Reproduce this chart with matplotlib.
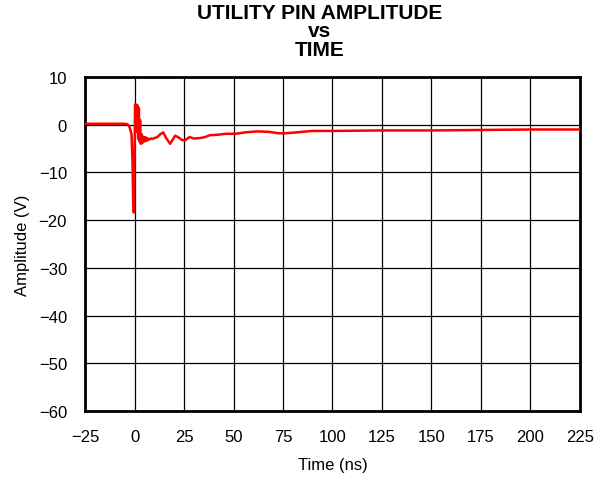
import matplotlib
matplotlib.use("Agg")
import matplotlib.pyplot as plt

plt.rcParams['font.family'] = ['Liberation Sans', 'DejaVu Sans']

# waveform
time_ns = [-25, -15, -5, -3.5, -2.5, -1.5, -1.0, -0.6, -0.3, 0.0, 0.3, 0.7, 1.0, 1.3,
           1.6, 1.9, 2.2, 2.5, 2.8, 3.2, 3.6, 4.0, 4.5, 5.0, 5.5, 6.0, 6.5, 7.0, 8.0,
           9.0, 10, 11.5, 13, 14.5, 16, 18, 19.5, 20.5, 22, 24, 25.5, 27, 28, 30, 33,
           35.5, 38, 42, 46, 51, 56, 62, 68, 73, 76, 82, 90, 100, 125, 150, 175, 200, 225]
amp_v = [0.2, 0.2, 0.2, 0.1, -0.5, -2.0, -8, -18.2, -18.4, -8, 4.3, 0.5, 4.2, -1.5,
         4.0, -3.0, 3.5, -3.5, 1.0, -4.0, -2.0, -3.8, -2.5, -3.5, -2.6, -3.4, -2.8, -3.2, -2.9,
         -3.0, -2.8, -2.6, -2.0, -1.6, -2.8, -4.0, -3.0, -2.3, -2.6, -3.2, -3.3, -2.8, -2.6, -2.9, -2.8,
         -2.6, -2.2, -2.1, -1.9, -1.9, -1.6, -1.4, -1.5, -1.8, -1.8, -1.6, -1.3, -1.3, -1.2, -1.2, -1.1, -1.0, -1.0]

x_ticks = list(range(-25, 226, 25))
y_ticks = list(range(-60, 11, 10))

fig = plt.figure(figsize=(5.97, 4.81), dpi=100)
ax = fig.add_axes([0.1424, 0.1435, 0.8291, 0.6943])

ax.plot(time_ns, amp_v, color='#ff0000', lw=1.8, zorder=3)

ax.set_xlim(-25, 225)
ax.set_ylim(-60, 10)
ax.set_xticks(x_ticks)
ax.set_yticks(y_ticks)
ax.grid(True, color='black', lw=0.9)
ax.tick_params(axis='x', length=0, labelsize=12, pad=13)
ax.tick_params(axis='y', length=0, labelsize=12, pad=13)
for s in ax.spines.values():
    s.set_linewidth(2)

ax.set_xlabel('Time (ns)', fontsize=12, labelpad=9)
ax.set_ylabel('Amplitude (V)', fontsize=12, labelpad=6)

fig.text(320 / 597, 1 - 4 / 481, 'UTILITY PIN AMPLITUDE\nvs\nTIME', fontsize=15,
         fontweight='bold', ha='center', va='top', linespacing=0.95)

fig.savefig('out.png', dpi=100)
